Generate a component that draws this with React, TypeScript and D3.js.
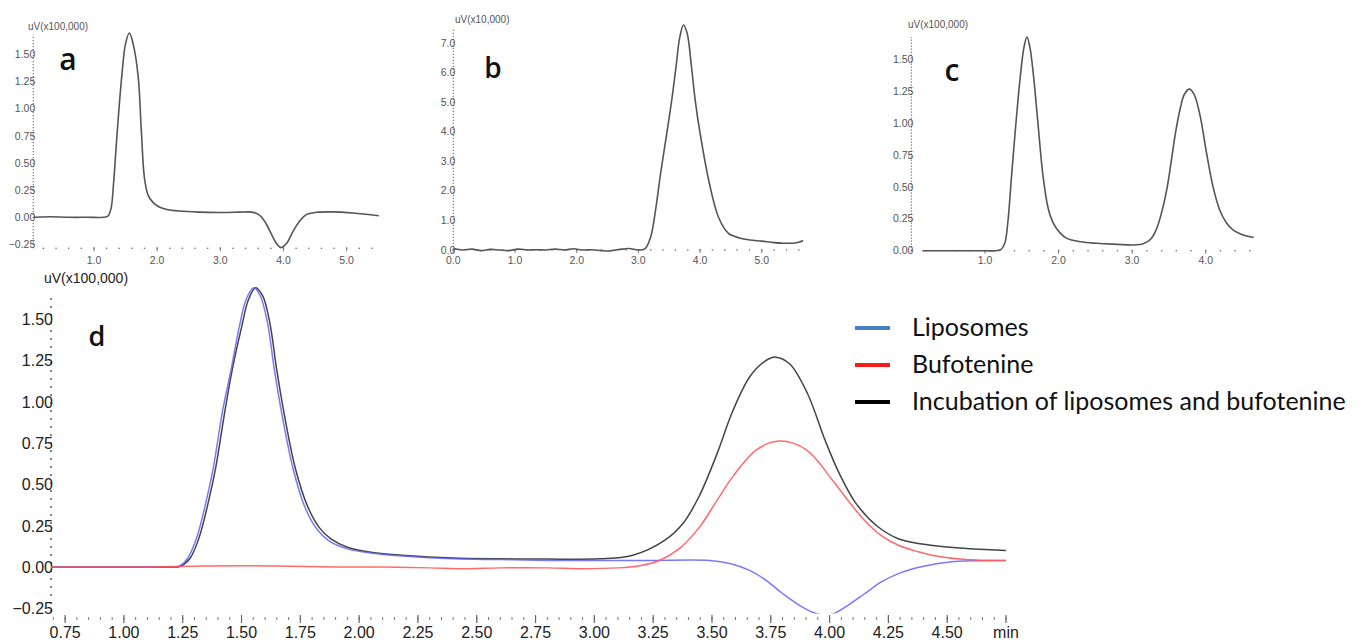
import React from "react";
import * as d3 from "d3";

// ---------- Panel a (liposomes alone) ----------
const aTime = [0.04, 0.3, 0.6, 0.9, 1.15, 1.22, 1.27, 1.31, 1.37, 1.44, 1.5, 1.56, 1.62, 1.7, 1.75, 1.8, 1.86, 1.93, 2.02, 2.14, 2.35, 2.67, 3.0, 3.3, 3.46, 3.56, 3.64, 3.72, 3.83, 3.9, 3.96, 4.05, 4.16, 4.27, 4.36, 4.52, 4.78, 5.1, 5.51];
const aValue = [0.0, 0.005, 0.0, 0.0, 0.0, 0.01, 0.08, 0.31, 0.8, 1.3, 1.6, 1.7, 1.6, 1.3, 0.8, 0.36, 0.2, 0.14, 0.1, 0.075, 0.058, 0.048, 0.045, 0.048, 0.05, 0.04, 0.01, -0.055, -0.18, -0.25, -0.28, -0.24, -0.12, -0.025, 0.025, 0.046, 0.05, 0.04, 0.015];
const aYTicks = [-0.25, 0, 0.25, 0.5, 0.75, 1.0, 1.25, 1.5];
const aXTicks = [1, 2, 3, 4, 5];

// ---------- Panel b (bufotenine alone) ----------
const bTime = [0, 0.15, 0.3, 0.45, 0.6, 0.75, 0.9, 1.05, 1.2, 1.35, 1.5, 1.65, 1.8, 1.95, 2.1, 2.25, 2.4, 2.55, 2.7, 2.85, 3.0, 3.11, 3.2, 3.285, 3.36, 3.46, 3.54, 3.61, 3.67, 3.73, 3.79, 3.86, 3.92, 4.0, 4.15, 4.3, 4.46, 4.65, 4.81, 5.0, 5.2, 5.35, 5.5, 5.6, 5.67];
const bValue = [0.05, 0.0, 0.03, -0.02, 0.02, 0.0, -0.02, 0.03, 0.0, 0.01, 0.0, 0.03, 0.0, 0.04, 0.0, 0.01, -0.02, -0.03, 0.02, 0.05, 0.0, 0.05, 0.45, 1.45, 2.6, 3.95, 5.08, 6.21, 7.2, 7.62, 7.34, 6.21, 5.08, 3.95, 2.26, 1.1, 0.56, 0.4, 0.34, 0.3, 0.25, 0.23, 0.23, 0.26, 0.32];
const bYTicks = [0, 1, 2, 3, 4, 5, 6, 7];
const bXTicks = [0, 1, 2, 3, 4, 5];

// ---------- Panel c (incubation) ----------
const cTime = [0.15, 0.5, 0.9, 1.15, 1.22, 1.27, 1.31, 1.36, 1.42, 1.48, 1.53, 1.57, 1.61, 1.66, 1.72, 1.79, 1.86, 1.93, 2.02, 2.11, 2.3, 2.52, 2.8, 3.02, 3.15, 3.25, 3.33, 3.4, 3.47, 3.53, 3.59, 3.65, 3.71, 3.78, 3.84, 3.92, 4.01, 4.1, 4.19, 4.28, 4.37, 4.48, 4.6, 4.65];
const cValue = [0.0, 0.0, 0.0, 0.0, 0.01, 0.06, 0.22, 0.58, 1.0, 1.37, 1.6, 1.68, 1.6, 1.37, 1.0, 0.58, 0.33, 0.215, 0.14, 0.097, 0.07, 0.058, 0.05, 0.045, 0.055, 0.09, 0.17, 0.3, 0.48, 0.7, 0.93, 1.11, 1.23, 1.27, 1.23, 1.07, 0.77, 0.5, 0.32, 0.22, 0.163, 0.13, 0.11, 0.105];
const cYTicks = [0, 0.25, 0.5, 0.75, 1.0, 1.25, 1.5];
const cXTicks = [1, 2, 3, 4];

// ---------- Panel d (overlay) ----------
const liposomeTime = [0.69, 0.9, 1.1, 1.2, 1.235, 1.27, 1.31, 1.35, 1.38, 1.42, 1.455, 1.49, 1.52, 1.552, 1.58, 1.61, 1.64, 1.68, 1.72, 1.77, 1.82, 1.87, 1.95, 2.05, 2.2, 2.4, 2.6, 2.8, 3.0, 3.23, 3.49, 3.58, 3.66, 3.73, 3.8, 3.87, 3.94, 3.98, 4.02, 4.08, 4.15, 4.22, 4.3, 4.4, 4.51, 4.62, 4.75];
const liposomeValue = [0, 0, 0, 0, 0.005, 0.05, 0.18, 0.4, 0.6, 0.95, 1.19, 1.45, 1.62, 1.69, 1.64, 1.48, 1.19, 0.86, 0.59, 0.36, 0.23, 0.16, 0.11, 0.085, 0.065, 0.05, 0.045, 0.04, 0.04, 0.04, 0.04, 0.02, -0.02, -0.08, -0.16, -0.23, -0.28, -0.29, -0.28, -0.23, -0.16, -0.09, -0.035, 0.005, 0.03, 0.038, 0.04];

const bufoteninTime = [0.69, 0.9, 1.1, 1.3, 1.5, 1.7, 1.9, 2.1, 2.3, 2.45, 2.6, 2.8, 2.95, 3.1, 3.2, 3.276, 3.36, 3.446, 3.52, 3.59, 3.69, 3.786, 3.9, 4.01, 4.08, 4.15, 4.22, 4.295, 4.37, 4.44, 4.58, 4.75];
const bufoteninValue = [0, 0, 0, 0.005, 0.008, 0.005, 0.0, 0.0, -0.005, -0.01, -0.005, -0.005, -0.01, -0.005, 0.01, 0.04, 0.11, 0.24, 0.4, 0.55, 0.71, 0.762, 0.71, 0.53, 0.4, 0.28, 0.19, 0.13, 0.095, 0.07, 0.045, 0.04];

const incubationTime = [0.69, 0.9, 1.1, 1.2, 1.24, 1.28, 1.32, 1.36, 1.39, 1.43, 1.46, 1.5, 1.53, 1.56, 1.59, 1.62, 1.65, 1.69, 1.73, 1.78, 1.83, 1.88, 1.95, 2.05, 2.2, 2.4, 2.6, 2.8, 3.02, 3.16, 3.3, 3.38, 3.446, 3.52, 3.59, 3.66, 3.72, 3.77, 3.83, 3.906, 3.98, 4.04, 4.11, 4.2, 4.295, 4.44, 4.6, 4.75];
const incubationValue = [0, 0, 0, 0.0, 0.005, 0.05, 0.18, 0.4, 0.6, 0.95, 1.19, 1.45, 1.62, 1.69, 1.64, 1.48, 1.19, 0.86, 0.59, 0.37, 0.24, 0.17, 0.12, 0.09, 0.07, 0.055, 0.05, 0.048, 0.05, 0.07, 0.163, 0.27, 0.43, 0.68, 0.95, 1.15, 1.24, 1.27, 1.23, 1.05, 0.77, 0.57, 0.39, 0.25, 0.17, 0.13, 0.11, 0.1];

const dYTicks = [-0.25, 0, 0.25, 0.5, 0.75, 1.0, 1.25, 1.5];
const dXTicks = [0.75, 1.0, 1.25, 1.5, 1.75, 2.0, 2.25, 2.5, 2.75, 3.0, 3.25, 3.5, 3.75, 4.0, 4.25, 4.5, 4.75];

const legendLabels = ["Liposomes", "Bufotenine", "Incubation of liposomes and bufotenine"];
const legendColors = ["#4a7fc8", "#ff1a1a", "#000000"];

const zip = (t: number[], v: number[]) => t.map((x, i) => [x, v[i]] as [number, number]);

type SmallProps = {
  time: number[];
  value: number[];
  xDomain: [number, number];
  xRange: [number, number];
  yDomain: [number, number];
  yRange: [number, number];
  yTicks: number[];
  xTicks: number[];
  yFmt: string;
  unit: string;
  letter: string;
  letterPos: [number, number];
  letterSize: number;
  unitPos: [number, number];
  axisY: number;
};

function SmallPanel(p: SmallProps) {
  const x = d3.scaleLinear().domain(p.xDomain).range(p.xRange);
  const y = d3.scaleLinear().domain(p.yDomain).range(p.yRange);
  const line = d3
    .line<[number, number]>()
    .x((d) => x(d[0]))
    .y((d) => y(d[1]))
    .curve(d3.curveCatmullRom.alpha(0.5));
  const fmt = d3.format(p.yFmt);
  const ax = p.xRange[0];
  const minor = d3.range(Math.ceil(p.xDomain[0] / 0.2) * 0.2, p.xDomain[1] + 1e-6, 0.2);
  return (
    <g>
      <line x1={ax} x2={ax} y1={p.axisY} y2={p.yRange[1]} stroke="#777" strokeWidth={1.2} strokeDasharray="1.2,1.8" />
      {minor.map((m, i) => (
        <rect key={"m" + i} x={x(m) - 0.7} y={p.axisY - 0.7} width={1.4} height={1.4} fill="#777" />
      ))}
      {p.xTicks.map((t) => (
        <line key={"t" + t} x1={x(t)} x2={x(t)} y1={p.axisY - 1} y2={p.axisY + 3} stroke="#777" strokeWidth={1} />
      ))}
      {p.yTicks.map((t) => (
        <text key={"y" + t} x={ax + 2} y={y(t) + 3.5} textAnchor="end" fontFamily="Liberation Sans, Arial, sans-serif" fontSize={10.5} fill="#555">
          {fmt(t)}
        </text>
      ))}
      {p.xTicks.map((t) => (
        <text key={"x" + t} x={x(t)} y={263.5} textAnchor="middle" fontFamily="Liberation Sans, Arial, sans-serif" fontSize={10.5} fill="#555">
          {d3.format(".1f")(t)}
        </text>
      ))}
      <text x={p.unitPos[0]} y={p.unitPos[1]} fontFamily="Liberation Sans, Arial, sans-serif" fontSize={10} fill="#555">
        {p.unit}
      </text>
      <text x={p.letterPos[0]} y={p.letterPos[1]} textAnchor="middle" fontFamily="Open Sans, sans-serif" fontWeight={600} fontSize={p.letterSize} fill="#111">
        {p.letter}
      </text>
      <path d={line(zip(p.time, p.value)) || ""} fill="none" stroke="#555" strokeWidth={1.6} />
    </g>
  );
}

function MainPanel() {
  const x = d3.scaleLinear().domain([0.69, 4.75]).range([51, 1006]);
  const y = d3.scaleLinear().domain([-0.278, 1.664]).range([613, 292]);
  const line = d3
    .line<[number, number]>()
    .x((d) => x(d[0]))
    .y((d) => y(d[1]))
    .curve(d3.curveCatmullRom.alpha(0.5));
  const axisY = 618;
  const minor = d3.range(0.7, 4.75 + 1e-6, 0.05);
  const fmt = d3.format(".2f");
  const font = "Liberation Sans, Arial, sans-serif";
  return (
    <g>
      <defs>
        <clipPath id="clipD">
          <rect x={40} y={200} width={1000} height={413.5} />
        </clipPath>
      </defs>
      <line x1={51} x2={51} y1={612} y2={292} stroke="#666" strokeWidth={1.6} strokeDasharray="2,6" />
      {minor.map((m, i) => (
        <line key={"m" + i} x1={x(m)} x2={x(m)} y1={axisY - 1} y2={axisY + 2} stroke="#777" strokeWidth={1} />
      ))}
      {dXTicks.map((t) => (
        <line key={"t" + t} x1={x(t)} x2={x(t)} y1={axisY - 3} y2={axisY + 5} stroke="#666" strokeWidth={1.2} />
      ))}
      {dXTicks.map((t) => (
        <text key={"x" + t} x={x(t)} y={638} textAnchor="middle" fontFamily={font} fontSize={16} fill="#222">
          {t === 4.75 ? "min" : fmt(t)}
        </text>
      ))}
      {dYTicks.map((t) => (
        <text key={"y" + t} x={53} y={y(t) + 6} textAnchor="end" fontFamily={font} fontSize={16} fill="#222">
          {fmt(t)}
        </text>
      ))}
      <text x={44} y={283} fontFamily={font} fontSize={14} fill="#222">
        uV(x100,000)
      </text>
      <text x={97} y={346} textAnchor="middle" fontFamily="Open Sans, sans-serif" fontWeight={600} fontSize={27} fill="#111">
        d
      </text>
      <g clipPath="url(#clipD)" fill="none" strokeWidth={1.5}>
        <path d={line(zip(incubationTime, incubationValue)) || ""} stroke="#444" />
        <path d={line(zip(liposomeTime, liposomeValue)) || ""} stroke="#6060ff" strokeOpacity={0.85} />
        <path d={line(zip(bufoteninTime, bufoteninValue)) || ""} stroke="#ff5a5a" strokeOpacity={0.9} />
      </g>
      {legendLabels.map((l, i) => (
        <g key={l}>
          <line x1={855} x2={890} y1={328 + i * 37} y2={328 + i * 37} stroke={legendColors[i]} strokeWidth={4} />
          <text x={912} y={336 + i * 37} fontFamily="Lato, sans-serif" fontSize={25} fill="#111">
            {l}
          </text>
        </g>
      ))}
    </g>
  );
}

export default function App() {
  return (
    <svg width={1372} height={640} style={{ position: "absolute", left: 0, top: 0, background: "#fff" }}>
      <rect x={0} y={0} width={1372} height={640} fill="#fff" />
      <SmallPanel
        time={aTime}
        value={aValue}
        xDomain={[0.04, 5.55]}
        xRange={[33.3, 381.4]}
        yDomain={[-0.286, 1.682]}
        yRange={[248.3, 35]}
        yTicks={aYTicks}
        xTicks={aXTicks}
        yFmt=".2f"
        unit="uV(x100,000)"
        unitPos={[28, 30]}
        letter="a"
        letterPos={[68, 70]}
        letterSize={30}
        axisY={248.3}
      />
      <SmallPanel
        time={bTime}
        value={bValue}
        xDomain={[0, 5.7]}
        xRange={[453.3, 805]}
        yDomain={[0, 7.52]}
        yRange={[250, 28]}
        yTicks={bYTicks}
        xTicks={bXTicks}
        yFmt=".1f"
        unit="uV(x10,000)"
        unitPos={[455, 23]}
        letter="b"
        letterPos={[493, 78]}
        letterSize={28}
        axisY={250}
      />
      <SmallPanel
        time={cTime}
        value={cValue}
        xDomain={[0, 4.65]}
        xRange={[911.4, 1253.6]}
        yDomain={[0, 1.68]}
        yRange={[250.7, 37]}
        yTicks={cYTicks}
        xTicks={cXTicks}
        yFmt=".2f"
        unit="uV(x100,000)"
        unitPos={[908, 28]}
        letter="c"
        letterPos={[952, 81]}
        letterSize={30}
        axisY={250.7}
      />
      <MainPanel />
    </svg>
  );
}
